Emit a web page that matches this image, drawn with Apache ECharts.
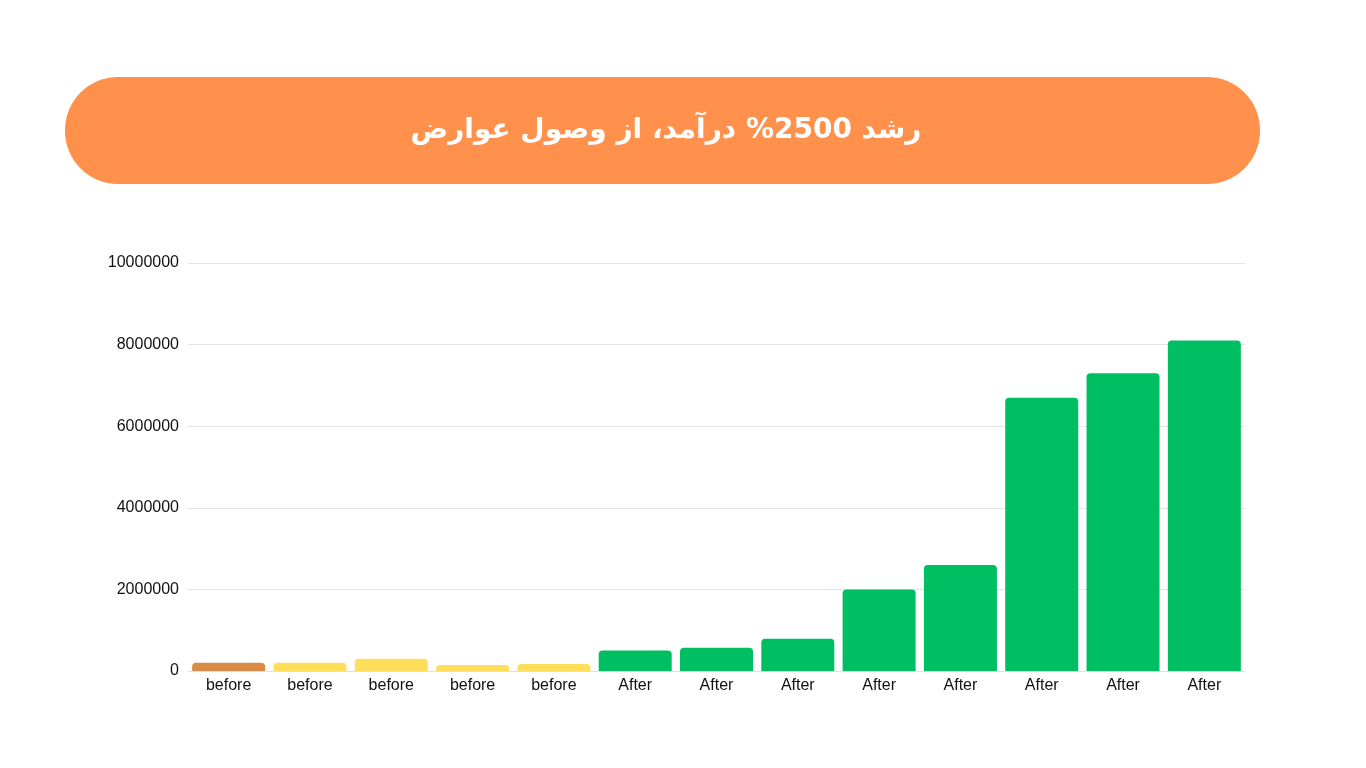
<!DOCTYPE html>
<html>
<head>
<meta charset="UTF-8">
<title>رشد درآمد</title>
<script src="https://cdn.jsdelivr.net/npm/echarts@6/dist/echarts.min.js"></script>
<style>
  html, body { margin: 0; padding: 0; background: #fff; }
  #main { width: 1366px; height: 768px; }
</style>
</head>
<body>
<div id="main"></div>
<script>
var categories = ['before', 'before', 'before', 'before', 'before',
                  'After', 'After', 'After', 'After', 'After', 'After', 'After', 'After'];
var revenue = [200000, 200000, 300000, 150000, 170000,
               500000, 570000, 790000, 2000000, 2600000, 6700000, 7300000, 8100000];
var barColors = ['#D98B47', '#FFDE59', '#FFDE59', '#FFDE59', '#FFDE59',
                 '#00BF63', '#00BF63', '#00BF63', '#00BF63', '#00BF63', '#00BF63', '#00BF63', '#00BF63'];
var titleText = 'رشد 2500% درآمد، از وصول عوارض';

var myChart = echarts.init(document.getElementById('main'));

var data = [];
for (var i = 0; i < revenue.length; i++) {
    data[i] = {
        value: revenue[i],
        itemStyle: { color: barColors[i] }
    };
}

var option = {
    backgroundColor: '#ffffff',
    animation: false,
    graphic: [
        {
            type: 'rect',
            shape: { x: 65, y: 77, width: 1195, height: 107, r: 53 },
            style: { fill: '#FF914D' }
        },
        {
            type: 'text',
            x: 666,
            y: 131,
            style: {
                text: titleText,
                fill: '#ffffff',
                font: 'bold 28px "DejaVu Sans", sans-serif',
                align: 'center',
                verticalAlign: 'middle'
            }
        }
    ],
    grid: {
        left: 188,
        right: 121,
        top: 263,
        bottom: 97
    },
    xAxis: {
        type: 'category',
        data: categories,
        axisLine: { lineStyle: { color: '#e0e0e0' } },
        axisTick: { show: false },
        axisLabel: {
            color: '#111111',
            fontSize: 16,
            fontFamily: 'Liberation Sans, Arial, sans-serif',
            margin: 7
        }
    },
    yAxis: {
        type: 'value',
        min: 0,
        max: 10000000,
        interval: 2000000,
        axisLine: { show: false },
        axisTick: { show: false },
        axisLabel: {
            color: '#111111',
            fontSize: 16,
            fontFamily: 'Liberation Sans, Arial, sans-serif',
            margin: 9,
            padding: [4, 0, 0, 0],
            formatter: function (v) { return String(v); }
        },
        splitLine: { lineStyle: { color: '#e3e3e3' } }
    },
    series: [
        {
            type: 'bar',
            data: data,
            barWidth: 73,
            itemStyle: { borderRadius: [4, 4, 0, 0] }
        }
    ]
};
myChart.setOption(option);
</script>
</body>
</html>
